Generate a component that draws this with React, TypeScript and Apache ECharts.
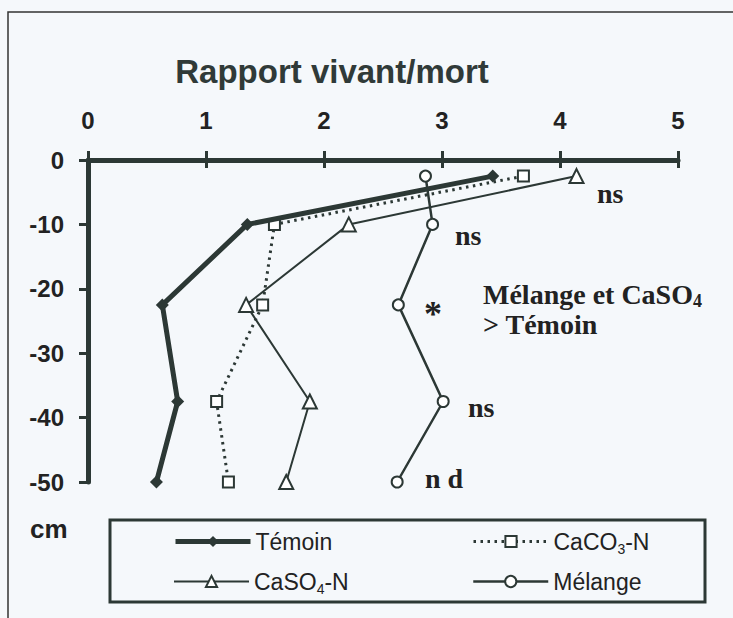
import React, { useEffect, useRef } from "react";
import * as echarts from "echarts";

const depths = [-2.5, -10, -22.5, -37.5, -50];
const temoin = [3.43, 1.35, 0.63, 0.76, 0.58];
const caco3 = [3.69, 1.58, 1.48, 1.09, 1.19];
const caso4 = [4.14, 2.21, 1.34, 1.88, 1.68];
const melange = [2.86, 2.92, 2.63, 3.01, 2.62];
const xTicks = [0, 1, 2, 3, 4, 5];
const yTicks = [0, -10, -20, -30, -40, -50];

const INK = "#2c3835";
const SANS = "Liberation Sans, Arial, sans-serif";
const SERIF = "Liberation Serif, Times New Roman, serif";

const pairs = (xs: number[]) => xs.map((x, i) => [x, depths[i]]);

export default function App() {
  const ref = useRef<HTMLDivElement>(null);
  useEffect(() => {
    if (!ref.current) return;
    const chart = echarts.init(ref.current, null, { renderer: "svg" });
    const LF = 23;
    const legendText = {
      fontFamily: SANS,
      fontSize: LF,
      color: "#222",
      rich: {
        n: { fontFamily: SANS, fontSize: LF, color: "#222" },
        s: { fontFamily: SANS, fontSize: 14, color: "#222", padding: [14, 0, 0, 0] },
      },
    };
    const legendFmt = (name: string) => {
      if (name === "CaCO3-N") return "{n|CaCO}{s|3}{n|-N}";
      if (name === "CaSO4-N") return "{n|CaSO}{s|4}{n|-N}";
      return "{n|" + name + "}";
    };
    const mkLegend = (name: string, left: number, top: number, lineStyle: any) => ({
      data: [name],
      left,
      top,
      itemWidth: 75,
      itemHeight: 14,
      padding: 0,
      selectedMode: false,
      formatter: legendFmt,
      textStyle: legendText,
      lineStyle,
    });
    const serifText = (text: string, x: number, y: number, size = 28) => ({
      type: "text",
      x,
      y,
      style: { text, fontFamily: SERIF, fontSize: size, fontWeight: "bold", fill: "#222" },
    });
    chart.setOption({
      animation: false,
      backgroundColor: "#f5f8fb",
      title: {
        text: "Rapport vivant/mort",
        left: 327,
        textAlign: "center",
        top: 50,
        textStyle: { fontFamily: SANS, fontSize: 33, fontWeight: "bold", color: "#303a38" },
      },
      legend: [
        mkLegend("Témoin", 173, 530, { width: 5 }),
        mkLegend("CaCO3-N", 472, 530, { width: 3, type: [2.5, 4.5] }),
        mkLegend("CaSO4-N", 173, 570, { width: 2 }),
        mkLegend("Mélange", 472, 570, { width: 2.5 }),
      ],
      grid: { left: 88, top: 160, width: 590, height: 322 },
      xAxis: [
        {
          type: "value",
          position: "top",
          min: 0,
          max: 5,
          interval: 1,
          axisLine: { show: true, onZero: false, lineStyle: { color: INK, width: 5 } },
          axisTick: { show: true, length: 9, lineStyle: { color: INK, width: 3 } },
          axisLabel: {
            margin: 28,
            fontFamily: SANS,
            fontSize: 24,
            fontWeight: "bold",
            color: "#222",
            formatter: (v: number) => (xTicks.includes(v) ? String(v) : ""),
          },
          splitLine: { show: false },
        },
        {
          type: "value",
          position: "top",
          min: 0,
          max: 5,
          interval: 1,
          axisLine: { show: false },
          axisTick: { show: true, inside: true, length: 8, lineStyle: { color: INK, width: 3 } },
          axisLabel: { show: false },
          splitLine: { show: false },
        },
      ],
      yAxis: [
        {
          type: "value",
          min: -50,
          max: 0,
          interval: 10,
          axisLine: { show: true, onZero: false, lineStyle: { color: INK, width: 5 } },
          axisTick: { show: true, length: 9, lineStyle: { color: INK, width: 3 } },
          axisLabel: {
            margin: 24,
            fontFamily: SANS,
            fontSize: 24,
            fontWeight: "bold",
            color: "#222",
            formatter: (v: number) => (yTicks.includes(v) ? String(v) : ""),
          },
          splitLine: { show: false },
        },
        {
          type: "value",
          min: -50,
          max: 0,
          interval: 10,
          axisLine: { show: false },
          axisTick: { show: true, inside: true, length: 9, lineStyle: { color: INK, width: 3 } },
          axisLabel: { show: false },
          splitLine: { show: false },
        },
      ],
      series: [
        {
          name: "Témoin",
          type: "line",
          data: pairs(temoin),
          symbol: "diamond",
          symbolSize: 13,
          lineStyle: { color: INK, width: 5 },
          itemStyle: { color: INK },
          z: 5,
        },
        {
          name: "CaCO3-N",
          type: "line",
          data: pairs(caco3),
          symbol: "emptyRect",
          symbolSize: 11,
          lineStyle: { color: INK, width: 3, type: [2.5, 4.5] },
          itemStyle: { color: INK, borderWidth: 2.5 },
          z: 4,
        },
        {
          name: "CaSO4-N",
          type: "line",
          data: pairs(caso4),
          symbol: "emptyTriangle",
          symbolSize: 14,
          lineStyle: { color: INK, width: 2 },
          itemStyle: { color: INK, borderWidth: 2.5 },
          z: 3,
        },
        {
          name: "Mélange",
          type: "line",
          data: pairs(melange),
          symbol: "emptyCircle",
          symbolSize: 11,
          lineStyle: { color: INK, width: 2.5 },
          itemStyle: { color: INK, borderWidth: 2.5 },
          z: 3,
        },
      ],
      graphic: [
        {
          type: "rect",
          shape: { x: 8, y: 12, width: 760, height: 640 },
          style: { fill: "none", stroke: "#333", lineWidth: 1.5 },
          silent: true,
        },
        {
          type: "rect",
          shape: { x: 110, y: 520, width: 595, height: 82 },
          style: { fill: "none", stroke: INK, lineWidth: 3 },
          silent: true,
        },
        {
          type: "text",
          x: 30,
          y: 516,
          style: { text: "cm", fontFamily: SANS, fontSize: 26, fontWeight: "bold", fill: "#222" },
        },
        serifText("ns", 597, 179),
        serifText("ns", 455, 221),
        serifText("*", 424, 296, 36),
        {
          type: "text",
          x: 483,
          y: 279,
          style: {
            text: "{n|Mélange et CaSO}{s|4}\n{n|> Témoin}",
            fontFamily: SERIF,
            fontSize: 28,
            fontWeight: "bold",
            fill: "#222",
            rich: {
              n: { fontFamily: SERIF, fontSize: 28, fontWeight: "bold", fill: "#222", lineHeight: 30 },
              s: { fontFamily: SERIF, fontSize: 18, fontWeight: "bold", fill: "#222", lineHeight: 30, padding: [14, 0, 0, 0] },
            },
          },
        },
        serifText("ns", 468, 393),
        serifText("n d", 425, 464),
      ],
    });
    return () => chart.dispose();
  }, []);
  return <div ref={ref} style={{ width: 733, height: 618, position: "fixed", left: 0, top: 0 }} />;
}
